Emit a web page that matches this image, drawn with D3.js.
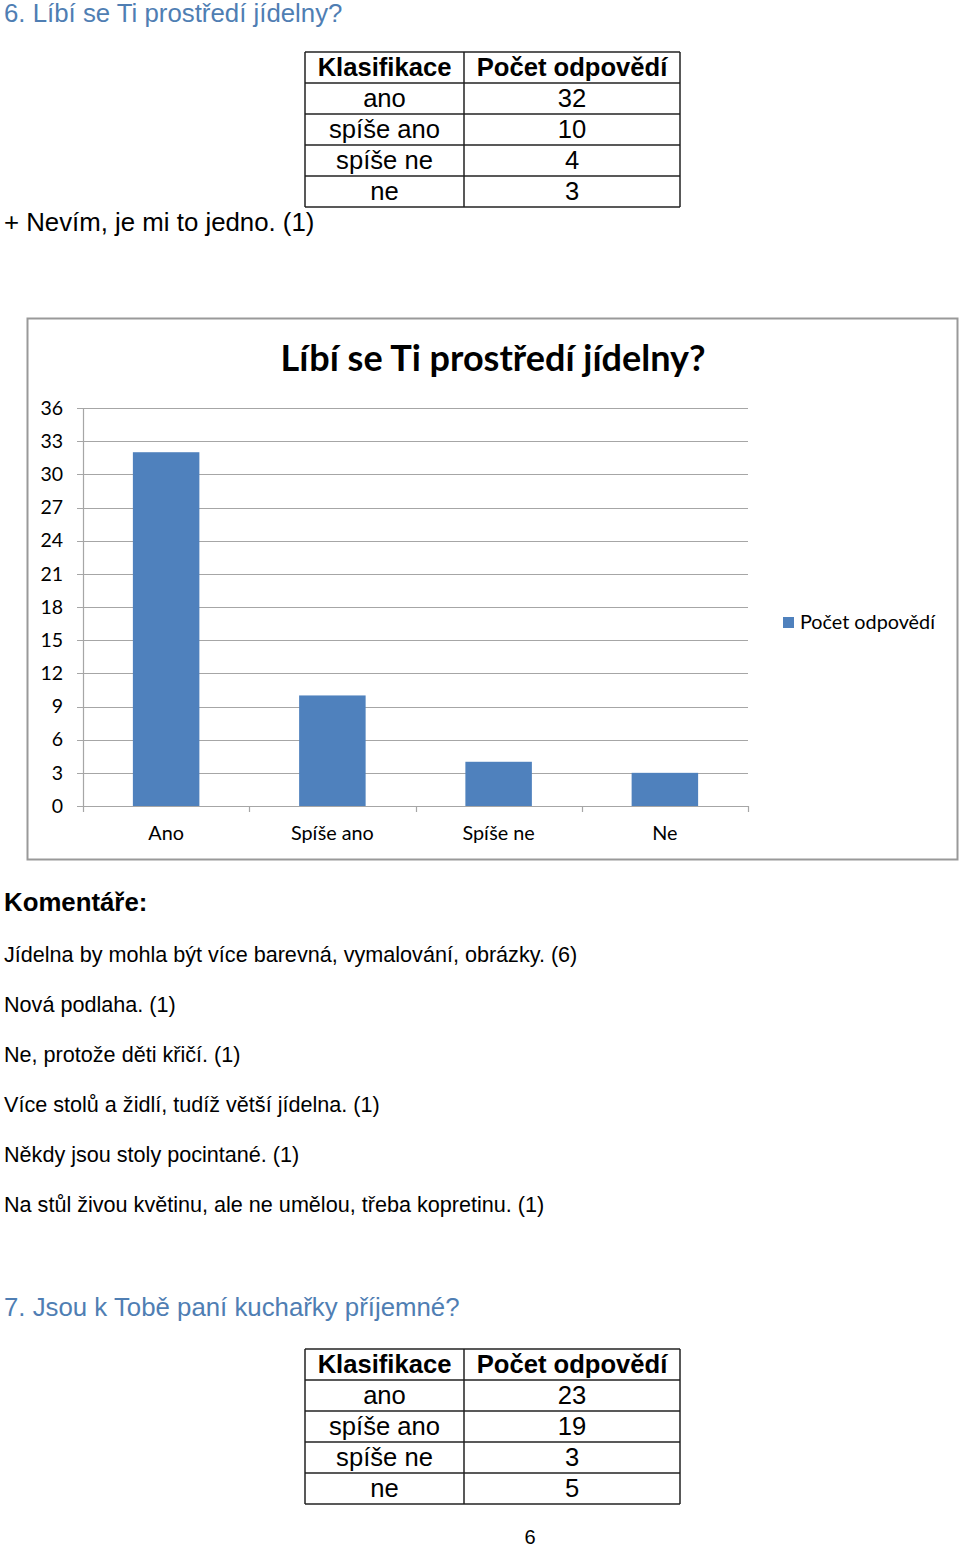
<!DOCTYPE html>
<html><head><meta charset="utf-8">
<script src="https://cdn.jsdelivr.net/npm/d3@7"></script>
<style>
html,body{margin:0;padding:0;background:#fff;}
svg{display:block;}
</style></head>
<body>
<svg id="page" width="960" height="1547"></svg>
<script>
const q6Title = "6. Líbí se Ti prostředí jídelny?";
const tableHeader = ["Klasifikace", "Počet odpovědí"];
const q6Classes = ["ano", "spíše ano", "spíše ne", "ne"];
const q6Counts = [32, 10, 4, 3];
const q6Extra = "+ Nevím, je mi to jedno. (1)";
const chartTitle = "Líbí se Ti prostředí jídelny?";
const chartCategories = ["Ano", "Spíše ano", "Spíše ne", "Ne"];
const chartValues = [32, 10, 4, 3];
const yTicks = [0, 3, 6, 9, 12, 15, 18, 21, 24, 27, 30, 33, 36];
const seriesName = "Počet odpovědí";
const commentsHeading = "Komentáře:";
const comments = [
  "Jídelna by mohla být více barevná, vymalování, obrázky. (6)",
  "Nová podlaha. (1)",
  "Ne, protože děti křičí. (1)",
  "Více stolů a židlí, tudíž větší jídelna. (1)",
  "Někdy jsou stoly pocintané. (1)",
  "Na stůl živou květinu, ale ne umělou, třeba kopretinu. (1)"
];
const q7Title = "7. Jsou k Tobě paní kuchařky příjemné?";
const q7Classes = ["ano", "spíše ano", "spíše ne", "ne"];
const q7Counts = [23, 19, 3, 5];
const pageNumber = "6";

const svg = d3.select("#page");
const ARIAL = "'Liberation Sans', Arial, sans-serif";
const CAL = "Lato, 'Open Sans', sans-serif";
const headBlue = "#4f7eb3";

svg.append("text").attr("x", 4).attr("y", 22).attr("font-family", ARIAL)
  .attr("font-size", 25.8).attr("fill", headBlue).text(q6Title);

function drawTable(top, classes, counts) {
  const g = svg.append("g");
  const x0 = 305, xm = 464, x1 = 680, rh = 31;
  const rows = [tableHeader].concat(classes.map((c, i) => [c, String(counts[i])]));
  const yRow = d3.scaleLinear().domain([0, rows.length]).range([top, top + rows.length * rh]);
  rows.forEach((r, i) => {
    [[x0, xm], [xm, x1]].forEach((span, j) => {
      g.append("text").attr("x", (span[0] + span[1]) / 2).attr("y", yRow(i) + 24)
        .attr("text-anchor", "middle").attr("font-family", ARIAL)
        .attr("font-size", 25.6).attr("font-weight", i === 0 ? "bold" : "normal")
        .attr("fill", "#000").text(r[j]);
    });
  });
  for (let i = 0; i <= rows.length; i++) {
    g.append("line").attr("x1", x0).attr("x2", x1).attr("y1", yRow(i)).attr("y2", yRow(i))
      .attr("stroke", "#222").attr("stroke-width", 1.5);
  }
  [x0, xm, x1].forEach(x => g.append("line").attr("x1", x).attr("x2", x)
    .attr("y1", yRow(0)).attr("y2", yRow(rows.length)).attr("stroke", "#222").attr("stroke-width", 1.5));
}
drawTable(52, q6Classes, q6Counts);

svg.append("text").attr("x", 4).attr("y", 231).attr("font-family", ARIAL)
  .attr("font-size", 25.8).attr("fill", "#000").text(q6Extra);

// Chart frame
svg.append("rect").attr("x", 27.5).attr("y", 318.5).attr("width", 930).attr("height", 541)
  .attr("fill", "#fff").attr("stroke", "#999").attr("stroke-width", 2);

svg.append("text").attr("x", 493).attr("y", 371).attr("text-anchor", "middle")
  .attr("font-family", CAL).attr("font-weight", "bold").attr("font-size", 36)
  .attr("fill", "#000").text(chartTitle);

const x = d3.scaleBand().domain(chartCategories).range([83, 748]).paddingInner(0.6).paddingOuter(0.3);
const y = d3.scaleLinear().domain([0, 36]).range([806, 408]);

const grid = svg.append("g");
grid.selectAll("line").data(yTicks).join("line")
  .attr("x1", 77).attr("x2", 748).attr("y1", d => Math.round(y(d)) + 0.5).attr("y2", d => Math.round(y(d)) + 0.5)
  .attr("stroke", "#a6a6a6").attr("stroke-width", 1.2);

svg.append("line").attr("x1", 83.5).attr("x2", 83.5).attr("y1", y(36)).attr("y2", y(0))
  .attr("stroke", "#a6a6a6").attr("stroke-width", 1.2);

const yAxis = svg.append("g").attr("transform", "translate(83,0)")
  .call(d3.axisLeft(y).tickValues(yTicks).tickSize(0).tickPadding(20));
yAxis.select(".domain").remove();
yAxis.selectAll("text").attr("font-family", CAL).attr("font-size", 19.5).attr("fill", "#000");

svg.append("g").selectAll("rect").data(chartValues).join("rect")
  .attr("x", (d, i) => x(chartCategories[i])).attr("width", x.bandwidth())
  .attr("y", d => y(d)).attr("height", d => y(0) - y(d)).attr("fill", "#4f81bd");

// x tick marks at band boundaries
const bounds = chartCategories.map(c => x(c) - x.step() * x.paddingOuter()).concat([748]);
svg.append("g").selectAll("line").data(bounds).join("line")
  .attr("x1", d => Math.round(d) + 0.5).attr("x2", d => Math.round(d) + 0.5)
  .attr("y1", y(0)).attr("y2", y(0) + 6).attr("stroke", "#a6a6a6").attr("stroke-width", 1.2);

const xAxis = svg.append("g").attr("transform", "translate(0,806)")
  .call(d3.axisBottom(x).tickSize(0).tickPadding(20));
xAxis.select(".domain").remove();
xAxis.selectAll("text").attr("font-family", CAL).attr("font-size", 19.8).attr("fill", "#000");

// legend
svg.append("rect").attr("x", 783).attr("y", 617).attr("width", 11).attr("height", 11).attr("fill", "#4f81bd");
svg.append("text").attr("x", 800).attr("y", 629).attr("font-family", CAL).attr("font-size", 19.8)
  .attr("fill", "#000").text(seriesName);

// comments
svg.append("text").attr("x", 4).attr("y", 911).attr("font-family", ARIAL).attr("font-weight", "bold")
  .attr("font-size", 25.8).attr("fill", "#000").text(commentsHeading);
svg.append("g").selectAll("text").data(comments).join("text")
  .attr("x", 4).attr("y", (d, i) => 962 + i * 50).attr("font-family", ARIAL)
  .attr("font-size", 21.6).attr("fill", "#000").text(d => d);

svg.append("text").attr("x", 4).attr("y", 1316).attr("font-family", ARIAL)
  .attr("font-size", 25.8).attr("fill", headBlue).text(q7Title);

drawTable(1349, q7Classes, q7Counts);

svg.append("text").attr("x", 530).attr("y", 1544).attr("text-anchor", "middle").attr("font-family", ARIAL)
  .attr("font-size", 20).attr("fill", "#000").text(pageNumber);
</script>
</body></html>
